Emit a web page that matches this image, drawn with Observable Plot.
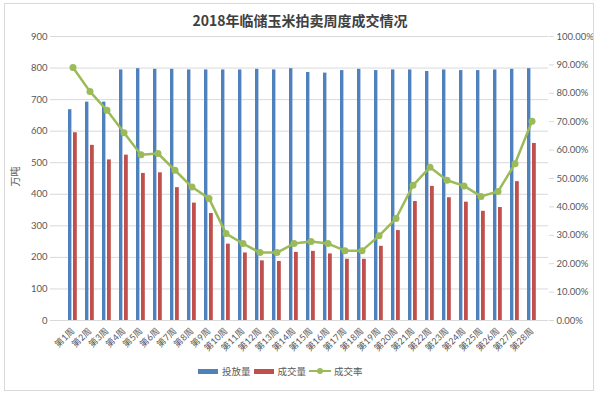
<!DOCTYPE html>
<html><head><meta charset="utf-8">
<script src="https://cdn.jsdelivr.net/npm/d3@7"></script>
<script src="https://cdn.jsdelivr.net/npm/@observablehq/plot@0.6"></script>
<style>
body{margin:0;background:#fff;}
#wrap{position:relative;width:600px;height:396px;font-family:Lato,"Noto Sans CJK SC",sans-serif;overflow:hidden;}
#frame{position:absolute;left:4px;top:3px;width:590px;height:388px;border:1px solid #d9d9d9;pointer-events:none;box-sizing:border-box;}
#title{box-sizing:border-box;height:30px;padding-top:12px;line-height:16px;font-size:14px;font-weight:bold;color:#404040;text-align:center;font-family:"Noto Sans CJK SC",sans-serif;}
#chart svg{display:block;}
#legend{display:flex;align-items:center;height:22px;padding-left:198px;font-size:9.5px;color:#595959;font-family:"Noto Sans CJK SC",sans-serif;}
.sw{display:inline-block;width:20px;height:5px;margin-right:4px;}
.it{display:flex;align-items:center;margin-right:3px;}
</style></head>
<body>
<div id="wrap">
<div id="frame"></div>
<div id="title">2018年临储玉米拍卖周度成交情况</div>
<div id="chart"></div>
<div id="legend"></div>
</div>
<script>
const weeks = ["第1周","第2周","第3周","第4周","第5周","第6周","第7周","第8周","第9周","第10周","第11周","第12周","第13周","第14周","第15周","第16周","第17周","第18周","第19周","第20周","第21周","第22周","第23周","第24周","第25周","第26周","第27周","第28周"];
const supply = [668, 692, 692, 794, 798, 796, 796, 794, 794, 794, 794, 796, 794, 798, 786, 784, 792, 796, 792, 794, 794, 789, 794, 792, 792, 794, 796, 798];
const deals = [595, 555, 509, 524, 466, 468, 421, 372, 339, 242, 214, 189, 187, 216, 219, 211, 194, 194, 235, 285, 377, 425, 389, 375, 346, 358, 440, 561];
const rate = [89.1, 80.6, 74.0, 66.1, 58.4, 58.8, 52.9, 47.0, 43.0, 30.6, 27.1, 23.9, 23.9, 27.1, 27.8, 27.1, 24.6, 24.6, 29.8, 35.9, 47.6, 54.0, 49.4, 47.4, 43.7, 45.4, 55.2, 70.2];
const leftTicks = [0,100,200,300,400,500,600,700,800,900];
const rightTicks = ["0.00%","10.00%","20.00%","30.00%","40.00%","50.00%","60.00%","70.00%","80.00%","90.00%","100.00%"];
const seriesNames = ["投放量","成交量","成交率"];
const colors = ["#4f81bd","#c0504d","#9bbb59"];

const rows = weeks.map((w,i)=>({week:w, supply:supply[i], deals:deals[i], rate:rate[i]}));
const RMAX = 900; // right axis 100% aligned with 900
const rightVals = rightTicks.map((t,i)=>i*RMAX/10);

const chart = Plot.plot({
  width: 600, height: 330,
  marginTop: 6, marginBottom: 40, marginLeft: 55, marginRight: 52,
  style: {fontFamily: 'Lato,"Noto Sans CJK SC",sans-serif', fontSize: "9.5px", color: "#595959", background: "transparent"},
  x: {type: "band", domain: weeks, padding: 0},
  y: {domain: [0, 900]},
  marks: [
    Plot.gridY(leftTicks, {stroke: "#d9d9d9", strokeOpacity: 1}),
    Plot.barY(rows, {x: "week", y: "supply", fill: colors[0], insetLeft: 4, insetRight: 9.6}),
    Plot.barY(rows, {x: "week", y: "deals", fill: colors[1], insetLeft: 9, insetRight: 4.2}),
    Plot.ruleY([0], {stroke: "#d9d9d9"}),
    Plot.line(rows, {x: "week", y: d => d.rate / 100 * RMAX, stroke: colors[2], strokeWidth: 2.5}),
    Plot.dot(rows, {x: "week", y: d => d.rate / 100 * RMAX, fill: colors[2], r: 3.5}),
    Plot.axisY(leftTicks, {anchor: "left", tickSize: 5, tickPadding: 3, stroke: "#d9d9d9", fill: "#595959", label: null}),
    Plot.axisY(rightVals, {anchor: "right", tickSize: 5, tickPadding: 3, stroke: "#d9d9d9", fill: "#595959", tickFormat: (d) => rightTicks[Math.round(d / RMAX * 10)], label: null}),
    Plot.axisX({tickRotate: -45, tickSize: 0, tickPadding: 9, fill: "#595959", fontSize: 9, label: null}),
    Plot.text(["万吨"], {frameAnchor: "left", dx: -40, dy: 8, rotate: -90, fill: "#595959", fontSize: 10, fontFamily: '"Noto Sans CJK SC",sans-serif'})
  ]
});
document.getElementById("chart").appendChild(chart);

const lg = document.getElementById("legend");
seriesNames.forEach((name, i) => {
  const it = document.createElement("div");
  it.className = "it";
  if (i < 2) {
    it.innerHTML = `<span class="sw" style="background:${colors[i]}"></span><span>${name}</span>`;
  } else {
    it.innerHTML = `<svg width="22" height="8" style="margin-right:3px"><line x1="0" y1="4" x2="22" y2="4" stroke="${colors[i]}" stroke-width="2"/><circle cx="11" cy="4" r="3" fill="${colors[i]}"/></svg><span>${name}</span>`;
  }
  lg.appendChild(it);
});
</script>
</body></html>
